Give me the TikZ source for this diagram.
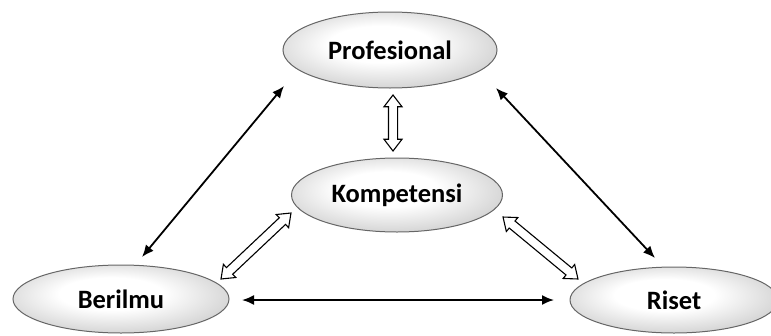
\documentclass[tikz,border=0pt]{standalone}
\usepackage{fontspec}
\setmainfont{Carlito}
\usetikzlibrary{arrows.meta,shapes.geometric,shapes.arrows,calc}
\pgfdeclareradialshading{stone}{\pgfpoint{-3bp}{5bp}}{%
  color(0bp)=(white); color(12bp)=(white); color(26bp)=(black!15);
  color(38bp)=(black!30); color(46bp)=(black!50); color(50bp)=(black!70)}
\tikzset{
  oval/.style={ellipse, draw=black!60, line width=1pt, shading=stone,
    inner sep=0pt, font=\fontsize{26.5}{31}\selectfont\bfseries},
  solidarr/.style={line width=1.8pt, {Latex[length=12pt,width=10pt]}-{Latex[length=12pt,width=10pt]}},
  dblarr/.style={double arrow, draw=black, line width=1.1pt, fill=white,
    inner xsep=0pt, inner ysep=4pt, double arrow head extend=4.5pt,
    double arrow tip angle=75}
}
\begin{document}
\begin{tikzpicture}[x=1pt,y=-1pt]
\useasboundingbox (0,0) rectangle (771,335);
% nodes
\node[oval, minimum width=214pt, minimum height=76pt] (prof) at (390,50) {Profesional};
\node[oval, minimum width=211pt, minimum height=74pt] (komp) at (397,195) {Kompetensi};
\node[oval, minimum width=216pt, minimum height=68pt] (ber) at (121,299) {Berilmu};
\node[oval, minimum width=208pt, minimum height=66pt] (riset) at (674,300) {Riset};
% connector ends
\coordinate (pb1) at (284,86);
\coordinate (pb2) at (142,257);
\coordinate (pr1) at (496,88);
\coordinate (pr2) at (655,258);
\coordinate (br1) at (242,300);
\coordinate (br2) at (554,300);
\coordinate (pk1) at (393,95);
\coordinate (pk2) at (393,151);
\coordinate (kb1) at (291,213);
\coordinate (kb2) at (221,279);
\coordinate (kr1) at (503,217);
\coordinate (kr2) at (578,279);
% solid arrows
\draw[solidarr] (pb1) -- (pb2);
\draw[solidarr] (pr1) -- (pr2);
\draw[solidarr] (br1) -- (br2);
% hollow double arrows
\foreach \a/\b in {pk1/pk2, kb1/kb2, kr1/kr2}{
  \path let \p1=(\a), \p2=(\b),
    \n1={atan2(\y2-\y1,\x2-\x1)}, \n2={veclen(\x2-\x1,\y2-\y1)} in
    node[dblarr, minimum height=\n2, rotate=\n1] at ($(\a)!0.5!(\b)$) {};
}
\end{tikzpicture}
\end{document}
